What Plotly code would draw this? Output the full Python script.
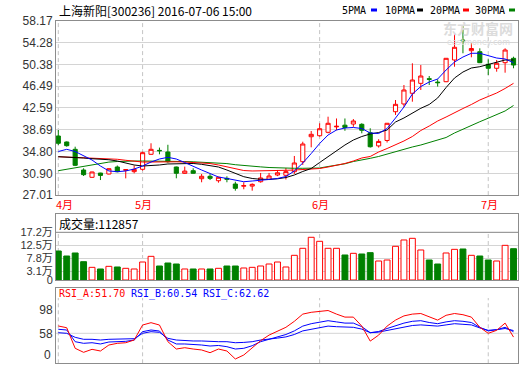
import plotly.graph_objects as go

# ---------------- data ----------------
dates = ["04-18", "04-19", "04-20", "04-21", "04-22", "04-25", "04-26", "04-27", "04-28", "04-29",
         "05-03", "05-04", "05-05", "05-06", "05-09", "05-10", "05-11", "05-12", "05-13", "05-16",
         "05-17", "05-18", "05-19", "05-20", "05-23", "05-24", "05-25", "05-26", "05-27", "05-30",
         "05-31", "06-01", "06-02", "06-03", "06-06", "06-07", "06-08", "06-13", "06-14", "06-15",
         "06-16", "06-17", "06-20", "06-21", "06-22", "06-23", "06-24", "06-27", "06-28", "06-29",
         "06-30", "07-01", "07-04", "07-05", "07-06"]

open_ = [37.57, 36.50, 35.19, 31.49, 30.19, 30.95, 30.78, 32.03, 31.45, 31.20,
         31.62, 34.30, 35.00, 34.71, 32.03, 30.90, 31.37, 29.94, 30.37, 29.58,
         30.00, 28.99, 28.60, 28.62, 29.40, 29.83, 30.60, 30.55, 31.19, 32.98,
         37.44, 37.62, 38.23, 39.20, 39.50, 39.71, 39.66, 38.15, 35.80, 36.77,
         41.91, 43.29, 45.20, 46.98, 47.80, 47.20, 47.27, 51.15, 54.70, 52.81,
         52.63, 50.38, 49.67, 50.67, 51.45]
high = [38.64, 36.60, 35.66, 31.80, 31.20, 31.00, 31.80, 32.30, 31.60, 32.30,
        34.80, 36.27, 35.50, 36.00, 32.10, 32.10, 31.80, 30.78, 30.78, 30.30,
        30.37, 29.40, 29.30, 29.10, 30.97, 30.97, 31.50, 31.85, 34.00, 36.55,
        38.46, 39.84, 41.02, 40.70, 40.70, 40.60, 39.85, 38.95, 37.00, 39.90,
        44.00, 46.68, 50.56, 50.25, 48.29, 47.70, 51.50, 55.92, 57.40, 54.13,
        53.24, 51.27, 51.15, 53.24, 51.74]
low = [35.96, 35.65, 32.20, 30.42, 30.10, 29.70, 30.70, 31.10, 30.00, 30.90,
       31.38, 34.20, 34.30, 32.80, 30.01, 30.80, 30.85, 29.30, 29.70, 29.23,
       29.30, 27.80, 28.05, 27.80, 29.23, 29.70, 30.40, 29.80, 30.80, 32.40,
       35.55, 37.45, 38.05, 38.60, 38.50, 39.20, 38.05, 35.50, 35.50, 36.40,
       41.33, 42.80, 43.70, 45.79, 46.68, 46.40, 47.20, 49.95, 52.35, 51.63,
       50.60, 48.47, 49.06, 48.88, 49.67]
close = [36.27, 35.84, 32.33, 30.66, 31.14, 30.53, 31.73, 31.19, 31.55, 31.60,
         34.59, 35.19, 34.94, 32.98, 30.91, 31.30, 30.91, 30.37, 30.00, 30.19,
         29.85, 28.22, 28.70, 28.93, 30.07, 30.42, 31.00, 31.20, 32.75, 36.14,
         37.87, 38.87, 39.84, 39.30, 39.10, 40.25, 38.59, 35.65, 36.60, 39.84,
         43.23, 45.79, 47.57, 48.29, 47.70, 47.10, 51.45, 53.42, 54.60, 53.20,
         50.67, 49.67, 50.56, 52.93, 50.25]

ma5 = [34.80, 35.19, 34.80, 33.99, 33.28, 32.21, 31.32, 31.19, 31.32, 31.67,
       32.21, 32.92, 33.46, 33.76, 33.46, 32.83, 32.12, 31.49, 30.87, 30.24,
       29.98, 29.71, 29.40, 29.53, 29.62, 29.80, 29.98, 30.33, 31.32, 32.74,
       34.44, 36.23, 37.75, 38.64, 39.00, 39.09, 38.91, 38.11, 38.02, 38.91,
       40.78, 42.75, 45.07, 46.41, 47.22, 47.75, 49.36, 50.79, 51.68, 52.35,
       52.35, 51.86, 51.50, 51.33, 50.67]
ma10 = [33.87, 33.82, 33.76, 33.64, 33.51, 33.42, 33.33, 33.10, 32.75, 32.39,
        32.21, 32.25, 32.39, 32.57, 32.62, 32.66, 32.66, 32.51, 32.30, 32.03,
        31.49, 30.87, 30.30, 29.98, 29.83, 29.83, 29.92, 30.15, 30.60, 31.23,
        31.76, 32.83, 33.91, 34.98, 35.96, 36.85, 37.48, 37.93, 38.19, 38.64,
        40.07, 40.79, 41.68, 42.52, 43.20, 44.36, 46.23, 47.93, 49.00, 49.72,
        49.95, 50.34, 50.79, 51.15, 51.15]
ma20 = [33.87, 33.82, 33.76, 33.67, 33.58, 33.51, 33.46, 33.41, 33.23, 33.01,
        32.92, 32.92, 32.96, 32.98, 32.96, 32.92, 32.83, 32.74, 32.65, 32.39,
        32.03, 31.67, 31.40, 31.32, 31.32, 31.32, 31.37, 31.44, 31.49, 31.55,
        31.62, 31.76, 32.03, 32.30, 32.66, 33.10, 33.64, 33.91, 34.71, 35.33,
        35.96, 36.68, 37.48, 38.55, 39.35, 40.25, 40.96, 41.77, 42.48, 43.20,
        44.00, 44.63, 45.25, 46.06, 46.98]
ma30 = [31.37, 31.62, 31.89, 32.16, 32.44, 32.73, 32.91, 33.01, 33.10, 33.10,
        33.10, 33.10, 33.10, 33.10, 33.07, 33.01, 32.96, 32.90, 32.82, 32.74,
        32.64, 32.44, 32.28, 32.16, 32.05, 31.94, 31.85, 31.80, 31.80, 31.80,
        31.80, 31.85, 32.12, 32.33, 32.60, 33.01, 33.23, 33.58, 33.91, 34.35,
        34.80, 35.25, 35.61, 35.96, 36.41, 36.77, 37.30, 38.11, 38.82, 39.44,
        40.12, 40.75, 41.38, 42.04, 43.02]

# volume in 万 (10k)
volume = [10.46, 8.65, 9.74, 6.60, 4.57, 3.97, 4.93, 4.69, 4.21, 3.97,
          6.49, 8.53, 5.05, 6.13, 5.77, 3.97, 3.97, 3.97, 3.97, 4.21,
          5.05, 5.05, 4.33, 4.57, 5.05, 5.77, 6.49, 4.69, 8.90, 11.43,
          15.40, 13.95, 11.43, 11.43, 9.02, 9.62, 9.38, 9.86, 6.85, 7.21,
          12.15, 14.43, 15.03, 10.82, 7.21, 5.77, 9.74, 11.06, 11.18, 8.90,
          8.65, 7.21, 6.85, 12.50, 11.2857]

rsi_a = [70.2, 67.3, 33.0, 26.3, 31.3, 28.5, 38.5, 41.3, 42.3, 46.8,
         71.8, 75.7, 71.8, 44.0, 31.8, 34.0, 31.8, 30.2, 25.7, 31.8,
         28.5, 15.2, 21.8, 33.0, 45.7, 55.0, 62.0, 68.0, 78.0, 90.0,
         93.0, 95.0, 96.0, 90.0, 85.0, 85.0, 70.0, 45.0, 55.0, 70.0,
         80.0, 87.0, 90.0, 91.0, 85.0, 80.0, 88.0, 91.0, 89.0, 85.0,
         68.0, 58.0, 63.0, 75.0, 51.70]
rsi_b = [64.7, 63.5, 44.0, 41.3, 42.3, 40.2, 43.5, 44.0, 44.6, 46.8,
         60.7, 63.5, 61.8, 46.8, 40.2, 40.2, 39.6, 38.5, 36.8, 37.7,
         35.7, 31.8, 33.0, 37.3, 44.0, 48.0, 52.0, 56.0, 62.0, 70.0,
         74.0, 77.0, 79.0, 77.0, 75.0, 75.0, 69.0, 59.0, 61.0, 66.0,
         71.0, 75.0, 78.0, 79.0, 76.0, 74.0, 77.0, 79.0, 78.0, 76.0,
         68.0, 62.0, 64.0, 68.0, 60.54]
rsi_c = [59.0, 58.0, 51.3, 48.0, 48.0, 46.8, 48.0, 48.0, 48.0, 49.0,
         58.0, 60.7, 59.6, 49.6, 46.8, 45.7, 45.2, 45.2, 44.0, 44.0,
         44.0, 42.3, 42.8, 44.0, 46.8, 48.0, 50.0, 52.0, 56.0, 62.0,
         65.0, 68.0, 70.0, 69.0, 68.0, 68.0, 65.0, 59.0, 60.0, 63.0,
         66.0, 69.0, 71.0, 72.0, 71.0, 70.0, 72.0, 74.0, 73.0, 72.0,
         67.0, 63.0, 64.0, 66.0, 62.62]

price_ticks = [27.01, 30.90, 34.80, 38.69, 42.59, 46.49, 50.38, 54.28, 58.17]
vol_ticks = [0, 3.1, 7.8, 12.5, 17.2]
rsi_ticks = [58, 98]
month_names = {"04": "4月", "05": "5月", "06": "6月", "07": "7月"}

title_text = "上海新阳[300236] 2016-07-06 15:00"

# ---------------- layout helpers ----------------
W_FIG, H_FIG = 520, 365
L, R = 56, 2
PW = W_FIG - L - R


def PX(x):
    return (x - L) / PW


def PY(y):
    return 1 - y / H_FIG


RED = "#ff0000"
GREEN = "#008000"
BLUE = "#0000ff"
BORDER = "#8c8c8c"
GRID = "#d4d4d4"
DASH = "#c4c4c4"

idx = list(range(len(dates)))
xr = [-0.273, len(dates) - 1 + 0.53]

fig = go.Figure()

# candles
fig.add_trace(go.Candlestick(
    x=idx, open=open_, high=high, low=low, close=close,
    increasing=dict(line=dict(color=RED, width=1), fillcolor="#ffffff"),
    decreasing=dict(line=dict(color=GREEN, width=1), fillcolor=GREEN),
    whiskerwidth=0, xaxis="x", yaxis="y", hoverinfo="skip"))

for ma, col in [(ma30, GREEN), (ma20, RED), (ma10, "#000000"), (ma5, BLUE)]:
    fig.add_trace(go.Scatter(x=idx, y=ma, mode="lines", line=dict(color=col, width=1),
                             xaxis="x", yaxis="y", hoverinfo="skip"))

# volume
up = [c >= o for o, c in zip(open_, close)]
fig.add_trace(go.Bar(
    x=idx, y=volume, width=0.7,
    marker=dict(color=["#ffffff" if u else GREEN for u in up],
                line=dict(color=[RED if u else GREEN for u in up], width=1)),
    xaxis="x2", yaxis="y2", hoverinfo="skip"))

# RSI
for r, col in [(rsi_c, BLUE), (rsi_b, BLUE), (rsi_a, RED)]:
    fig.add_trace(go.Scatter(x=idx, y=r, mode="lines", line=dict(color=col, width=1),
                             xaxis="x3", yaxis="y3", hoverinfo="skip"))

tickfont = dict(family="Liberation Sans, Arial", size=12, color="#333333")

main_dom = [PY(195.1), PY(20.7)]
vol_dom = [PY(280), PY(214)]
rsi_dom = [PY(363.3), PY(287.5)]

vol_top = 17.2 * (280 - 214) / (280 - 232.3)
rsi_lo = 58 - (363.3 - 333.3) / 0.6
rsi_hi = 58 + (333.3 - 287.5) / 0.6

axis_common = dict(showline=True, mirror=True, linecolor=BORDER, linewidth=1, zeroline=False)

fig.update_layout(
    width=W_FIG, height=H_FIG,
    margin=dict(l=L, r=R, t=0, b=0, autoexpand=False),
    paper_bgcolor="white", plot_bgcolor="white",
    showlegend=False, hovermode=False,
    xaxis=dict(domain=[0, 1], range=xr, showticklabels=False, showgrid=False,
               rangeslider=dict(visible=False), anchor="y", **axis_common),
    xaxis2=dict(domain=[0, 1], range=xr, showticklabels=False, showgrid=False,
                matches="x", anchor="y2", **axis_common),
    xaxis3=dict(domain=[0, 1], range=xr, showticklabels=False, showgrid=False,
                matches="x", anchor="y3", **axis_common),
    yaxis=dict(domain=main_dom, range=[price_ticks[0], price_ticks[-1]],
               tickvals=price_ticks, ticktext=["%.2f" % v for v in price_ticks],
               showgrid=True, gridcolor=GRID, gridwidth=1, ticks="", tickfont=tickfont,
               anchor="x", **axis_common),
    yaxis2=dict(domain=vol_dom, range=[0, vol_top], tickvals=vol_ticks,
                ticktext=["0"] + ["%.1f万" % v for v in vol_ticks[1:]],
                showgrid=True, gridcolor=GRID, gridwidth=1, ticks="",
                tickfont=dict(family="Liberation Sans, Noto Sans CJK SC", size=11, color="#333333"),
                anchor="x2", **axis_common),
    yaxis3=dict(domain=rsi_dom, range=[rsi_lo, rsi_hi], tickvals=rsi_ticks,
                ticktext=[str(v) for v in rsi_ticks], showgrid=False, ticks="",
                tickfont=tickfont, anchor="x3", **axis_common),
)

shapes = []
annotations = []

# month separators and labels
month_starts = [i for i in idx if i == 0 or dates[i][:2] != dates[i - 1][:2]]
for i in month_starts:
    shapes.append(dict(type="line", xref="x", yref="y domain", x0=i, x1=i, y0=0, y1=1,
                       line=dict(color=DASH, width=1, dash="4px,3px"), layer="below"))
    shapes.append(dict(type="line", xref="x2", yref="y2", x0=i, x1=i, y0=0, y1=vol_ticks[-1],
                       line=dict(color=DASH, width=1, dash="4px,3px"), layer="below"))
    shapes.append(dict(type="line", xref="x3", yref="y3", x0=i, x1=i, y0=rsi_lo,
                       y1=58 + (333.3 - 298) / 0.6,
                       line=dict(color=DASH, width=1, dash="4px,3px"), layer="below"))
    xpix = L + (i - xr[0]) / (xr[1] - xr[0]) * PW
    xpix = max(xpix, 63)
    annotations.append(dict(text=month_names[dates[i][:2]], xref="paper", yref="paper",
                            x=PX(xpix + 1), y=PY(203.5), xanchor="center", yanchor="middle",
                            showarrow=False,
                            font=dict(family="Noto Sans CJK SC", size=11, color=RED)))

# volume header separator and RSI gridline
shapes.append(dict(type="line", xref="x2 domain", yref="y2", x0=0, x1=1,
                   y0=vol_ticks[-1], y1=vol_ticks[-1], line=dict(color=BORDER, width=1)))
shapes.append(dict(type="line", xref="x3 domain", yref="y3", x0=0, x1=1, y0=58, y1=58,
                   line=dict(color=GRID, width=1), layer="below"))

# title and legend
annotations.append(dict(text=title_text, xref="paper", yref="paper", x=PX(57), y=PY(10),
                        xanchor="left", yanchor="middle", showarrow=False,
                        font=dict(family="Noto Sans CJK SC", size=12, color="#000000")))
legend_items = [("5PMA", 340, 371, BLUE), ("10PMA", 383, 417, "#000000"),
                ("20PMA", 428, 463, RED), ("30PMA", 473, 509, GREEN)]
for name, tx, mx, col in legend_items:
    annotations.append(dict(text=name, xref="paper", yref="paper", x=PX(tx), y=PY(10),
                            xanchor="left", yanchor="middle", showarrow=False,
                            font=dict(family="DejaVu Sans Mono", size=10, color="#000000")))
    shapes.append(dict(type="rect", xref="paper", yref="paper", x0=PX(mx), x1=PX(mx + 6),
                       y0=PY(11.5), y1=PY(8.5), fillcolor=col, line=dict(width=0)))

# watermark
annotations.append(dict(text="<b>东方财富网</b>", xref="paper", yref="paper", x=PX(478), y=PY(28),
                        xanchor="center", yanchor="middle", showarrow=False,
                        font=dict(family="Noto Sans CJK SC", size=14, color="#dcdcdc")))
annotations.append(dict(text="eastmoney.com", xref="paper", yref="paper", x=PX(478), y=PY(43),
                        xanchor="center", yanchor="middle", showarrow=False,
                        font=dict(family="DejaVu Sans", size=8, color="#dcdcdc")))

# volume header
annotations.append(dict(text="成交量:%d" % round(volume[-1] * 10000), xref="paper", yref="paper",
                        x=PX(57), y=PY(223.5), xanchor="left", yanchor="middle", showarrow=False,
                        font=dict(family="Noto Sans CJK SC", size=12, color="#000000")))

# RSI header
for label, val, tx, col in [("RSI_A", rsi_a[-1], 57, RED), ("RSI_B", rsi_b[-1], 129, BLUE),
                            ("RSI_C", rsi_c[-1], 200.5, BLUE)]:
    annotations.append(dict(text="%s:%.2f" % (label, val), xref="paper", yref="paper",
                            x=PX(tx), y=PY(293.5), xanchor="left", yanchor="middle",
                            showarrow=False,
                            font=dict(family="DejaVu Sans Mono", size=10, color=col)))
# RSI bottom label
annotations.append(dict(text="0", xref="paper", yref="paper", x=PX(52.5), y=PY(355),
                        xanchor="right", yanchor="middle", showarrow=False, font=tickfont))

fig.update_layout(shapes=shapes, annotations=annotations)
fig.write_html("out.html", config={"displayModeBar": False},
               post_script="document.body.style.margin='0';document.body.style.overflow='hidden';")
